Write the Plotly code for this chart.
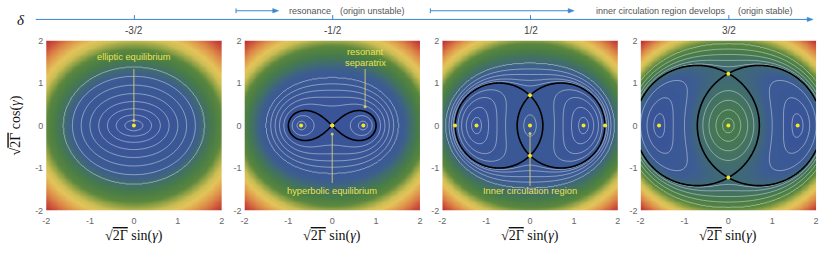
import numpy as np
import plotly.graph_objects as go

FIG_W, FIG_H = 830, 253

# ---------------- data ----------------
delta_values = [-1.5, -0.5, 0.5, 1.5]
delta_tick_labels = ["-3/2", "-1/2", "1/2", "3/2"]
axis_ticks = [-2, -1, 0, 1, 2]
axis_tick_labels = ["-2", "-1", "0", "1", "2"]

# equilibria (x, y)
p1_elliptic = [(0.0, 0.0)]
p2_elliptic = [(-0.71, 0.0), (0.71, 0.0), (0.0, 0.0)]
p2_hyperbolic = [(0.0, 0.0)]
p3_elliptic = [(0.0, 0.0), (-1.22, 0.0), (1.22, 0.0), (-1.71, 0.0), (1.71, 0.0)]
p3_hyperbolic = [(0.0, 0.71), (0.0, -0.71)]
p4_elliptic = [(0.0, 0.0), (-1.58, 0.0), (1.58, 0.0)]
p4_hyperbolic = [(0.0, 1.22), (0.0, -1.22)]

# where the drawn trajectories cross the axes
p1_ring_x = [0.2, 0.4, 0.6, 0.8, 1.0, 1.2, 1.4, 1.6]
p2_lobe_x = [0.8, 0.91]
p2_outer_x = [1.1, 1.2, 1.3, 1.4, 1.5]
p3_lobe_x = [1.33, 1.45, 1.56, 1.64]
p3_lens_x = [0.14]
p3_outer_y = [0.93, 1.06, 1.2, 1.33, 1.46]
p4_lobe_x = [1.7, 1.85, 2.0]
p4_lens_x = [0.13, 0.28, 0.44, 0.58]
p4_outer_y = [1.38, 1.53, 1.67, 1.8, 1.92]

# ---------------- layout helpers ----------------
panel_left_px = [42.5, 242.5, 442.0, 642.0]
panel_w_px = 177.0
panel_top_px, panel_bot_px = 37.0, 214.0


def fx(px):
    return px / FIG_W


def fy(py):
    return 1 - py / FIG_H


def ham(x, y, d):
    r2 = x * x + y * y
    return (r2 - d) ** 2 - 2 * x * x


xs = np.linspace(-2, 2, 200)
X, Y = np.meshgrid(xs, xs)
R = np.sqrt(X ** 2 + Y ** 2)


def ring_index(Hg, mask, Hb, seed_vals):
    d = np.abs(Hg[mask] - Hb)
    dl = sorted(abs(v - Hb) for v in seed_vals)
    n = len(dl)
    dmax = max(d.max(), dl[-1]) + 1e-6
    xp = [0.0] + dl + [dmax]
    fp = [-1.0] + list(range(n)) + [n - 0.5]
    return np.interp(d, xp, fp), n


colorscale = [
    [0.00, "rgb(57,84,152)"],
    [0.07, "rgb(60,92,148)"],
    [0.12, "rgb(66,112,104)"],
    [0.17, "rgb(72,124,72)"],
    [0.25, "rgb(92,136,62)"],
    [0.30, "rgb(145,162,70)"],
    [0.37, "rgb(205,190,84)"],
    [0.45, "rgb(228,196,90)"],
    [0.63, "rgb(222,140,72)"],
    [0.82, "rgb(205,82,60)"],
    [1.00, "rgb(190,45,48)"],
]

fig = go.Figure()

panels = []
for i, d in enumerate(delta_values):
    Hg = ham(X, Y, d)
    I = np.full(Hg.shape, -1.0)
    Hs = None
    if i == 0:
        Hb = ham(0.0, 0.0, d)
        mask = np.ones(Hg.shape, bool)
        I[mask], n = ring_index(Hg, mask, Hb, [ham(x, 0.0, d) for x in p1_ring_x])
        nmax = n
        ell, hyp = p1_elliptic, []
    elif i == 1:
        Hs = ham(*p2_hyperbolic[0], d)
        lobe = Hg < Hs
        outer = ~lobe
        I[lobe], n1 = ring_index(Hg, lobe, Hs, [ham(x, 0.0, d) for x in p2_lobe_x])
        I[outer], n2 = ring_index(Hg, outer, Hs, [ham(x, 0.0, d) for x in p2_outer_x])
        nmax = max(n1, n2)
        ell, hyp = p2_elliptic, p2_hyperbolic
    else:
        hyp = p3_hyperbolic if i == 2 else p4_hyperbolic
        ell = p3_elliptic if i == 2 else p4_elliptic
        lobe_x = p3_lobe_x if i == 2 else p4_lobe_x
        lens_x = p3_lens_x if i == 2 else p4_lens_x
        outer_y = p3_outer_y if i == 2 else p4_outer_y
        Hs = ham(*hyp[0], d)
        ys = abs(hyp[0][1])
        lobe = Hg < Hs
        lens = (~lobe) & (R < ys)
        outer = (~lobe) & (R >= ys)
        I[lobe], n1 = ring_index(Hg, lobe, Hs, [ham(x, 0.0, d) for x in lobe_x])
        I[lens], n2 = ring_index(Hg, lens, Hs, [ham(x, 0.0, d) for x in lens_x])
        I[outer], n3 = ring_index(Hg, outer, Hs, [ham(0.0, y, d) for y in outer_y])
        nmax = max(n1, n2, n3)

    xa = "x" if i == 0 else f"x{i+1}"
    ya = "y" if i == 0 else f"y{i+1}"

    fig.add_trace(go.Heatmap(
        x=xs, y=xs, z=Hg.astype(np.float32), colorscale=colorscale,
        zmin=float(Hg.min()), zmax=float(Hg.max()), zsmooth="best",
        showscale=False, hoverinfo="skip", xaxis=xa, yaxis=ya))
    fig.add_trace(go.Contour(
        x=xs, y=xs, z=I.astype(np.float32),
        contours=dict(start=0, end=nmax - 0.5, size=1, coloring="none"),
        line=dict(color="rgba(232,236,240,0.62)", width=0.8, smoothing=0.8),
        showscale=False, hoverinfo="skip", xaxis=xa, yaxis=ya))
    if Hs is not None:
        fig.add_trace(go.Contour(
            x=xs, y=xs, z=Hg.astype(np.float32),
            contours=dict(start=float(Hs), end=float(Hs) + 1e-3, size=1, coloring="none"),
            line=dict(color="black", width=1.6, smoothing=0.8),
            showscale=False, hoverinfo="skip", xaxis=xa, yaxis=ya))
    panels.append((xa, ya, ell, hyp))

# leader lines for the yellow labels (panel, x list, y list)
leaders = [
    (0, [0.0, 0.0], [1.33, 0.12]),
    (1, [0.75, 0.75], [1.33, 0.44]),
    (1, [0.0, 0.0], [-1.35, -0.2]),
    (2, [0.0, 0.0], [-1.42, -0.19]),
]
leader_col = "rgba(226,214,110,0.85)"
for p, lx, ly in leaders:
    xa, ya = panels[p][0], panels[p][1]
    fig.add_trace(go.Scatter(x=lx, y=ly, mode="lines", line=dict(color=leader_col, width=1),
                             hoverinfo="skip", showlegend=False, xaxis=xa, yaxis=ya))
    fig.add_trace(go.Scatter(x=[lx[-1]], y=[ly[-1]], mode="markers",
                             marker=dict(color=leader_col, size=3), hoverinfo="skip",
                             showlegend=False, xaxis=xa, yaxis=ya))

for xa, ya, ell, hyp in panels:
    pts = ell + hyp
    fig.add_trace(go.Scatter(x=[p[0] for p in pts], y=[p[1] for p in pts], mode="markers",
                             marker=dict(color="#f4e62a", size=4), hoverinfo="skip",
                             showlegend=False, xaxis=xa, yaxis=ya))

annotations = []
yellow = "#ece24e"
label_font = dict(family="Liberation Sans, Arial, sans-serif", size=9.3, color=yellow)
panel_labels = [
    (0, 0.0, 1.62, "elliptic equilibrium"),
    (1, 0.75, 1.72, "resonant"),
    (1, 0.75, 1.48, "separatrix"),
    (1, 0.0, -1.55, "hyperbolic equilibrium"),
    (2, 0.0, -1.55, "Inner circulation region"),
]
for p, tx, ty, t in panel_labels:
    xa, ya = panels[p][0], panels[p][1]
    annotations.append(dict(x=tx, y=ty, xref=xa, yref=ya, text=t, showarrow=False,
                            xanchor="center", yanchor="middle", font=label_font))

serif = "Liberation Serif, DejaVu Serif, serif"
sans = "Liberation Sans, Arial, sans-serif"
root = "√<span style='text-decoration:overline'>2Γ</span>"

# axes
layout_axes = {}
for i in range(4):
    xk = "xaxis" if i == 0 else f"xaxis{i+1}"
    yk = "yaxis" if i == 0 else f"yaxis{i+1}"
    x0 = panel_left_px[i]
    common = dict(range=[-2, 2], tickvals=axis_ticks, ticktext=axis_tick_labels,
                  showgrid=False, zeroline=False, showline=False, ticks="",
                  tickfont=dict(family=sans, size=9, color="#666"), fixedrange=True)
    layout_axes[xk] = dict(domain=[fx(x0), fx(x0 + panel_w_px)],
                           anchor="y" if i == 0 else f"y{i+1}", ticklabelstandoff=3, **common)
    layout_axes[yk] = dict(domain=[fy(panel_bot_px), fy(panel_top_px)],
                           anchor="x" if i == 0 else f"x{i+1}", ticklabelstandoff=2, **common)
    annotations.append(dict(x=fx(x0 + panel_w_px / 2), y=fy(241), xref="paper", yref="paper",
                            text=root + " sin(<i>γ</i>)", showarrow=False,
                            xanchor="center", yanchor="middle",
                            font=dict(family=serif, size=14, color="#111")))

annotations.append(dict(x=fx(12), y=fy(125.5), xref="paper", yref="paper",
                        text=root + " cos(<i>γ</i>)", showarrow=False, textangle=-90,
                        xanchor="center", yanchor="middle",
                        font=dict(family=serif, size=14, color="#111")))

# top delta axis (drawn with shapes)
blue = "#3a87cc"
shapes = []


def arrow(x_tail, x_head, yy, bar):
    out = [dict(type="line", xref="paper", yref="paper", x0=fx(x_tail), x1=fx(x_head - 4),
                y0=fy(yy), y1=fy(yy), line=dict(color=blue, width=1))]
    out.append(dict(type="path", xref="paper", yref="paper",
                    path=f"M {fx(x_head)},{fy(yy)} L {fx(x_head - 6)},{fy(yy - 2.3)} "
                         f"L {fx(x_head - 6)},{fy(yy + 2.3)} Z",
                    fillcolor=blue, line=dict(color=blue, width=0.5)))
    if bar:
        out.append(dict(type="line", xref="paper", yref="paper", x0=fx(x_tail), x1=fx(x_tail),
                        y0=fy(yy - 2.5), y1=fy(yy + 2.5), line=dict(color=blue, width=1)))
    return out


shapes += arrow(32, 816, 15, False)
shapes += arrow(234, 277, 6, True)
shapes += arrow(430, 575, 6, True)

annotations.append(dict(x=fx(17), y=fy(16), xref="paper", yref="paper", text="<i>δ</i>",
                        showarrow=False, xanchor="center", yanchor="middle",
                        font=dict(family=serif, size=15, color="#111")))
for i, lab in enumerate(delta_tick_labels):
    cx = panel_left_px[i] + panel_w_px / 2 + 0.5
    shapes.append(dict(type="line", xref="paper", yref="paper", x0=fx(cx), x1=fx(cx),
                       y0=fy(10.5), y1=fy(15), line=dict(color=blue, width=1)))
    annotations.append(dict(x=fx(cx), y=fy(27), xref="paper", yref="paper", text=lab,
                            showarrow=False, xanchor="center", yanchor="middle",
                            font=dict(family=sans, size=10, color="#444")))

top_notes = [(285, "resonance"), (337, "(origin unstable)"),
             (595, "inner circulation region develops"), (738, "(origin stable)")]
for xl, t in top_notes:
    annotations.append(dict(x=fx(xl), y=fy(6), xref="paper", yref="paper", text=t,
                            xanchor="left", yanchor="middle", showarrow=False,
                            font=dict(family=sans, size=9, color="#555")))

fig.update_layout(width=FIG_W, height=FIG_H, margin=dict(l=0, r=0, t=0, b=0),
                  paper_bgcolor="white", plot_bgcolor="white", showlegend=False,
                  annotations=annotations, shapes=shapes, **layout_axes)

fig.write_html("out.html", config={"displayModeBar": False, "staticPlot": True},
               post_script="document.body.style.margin='0px';")
